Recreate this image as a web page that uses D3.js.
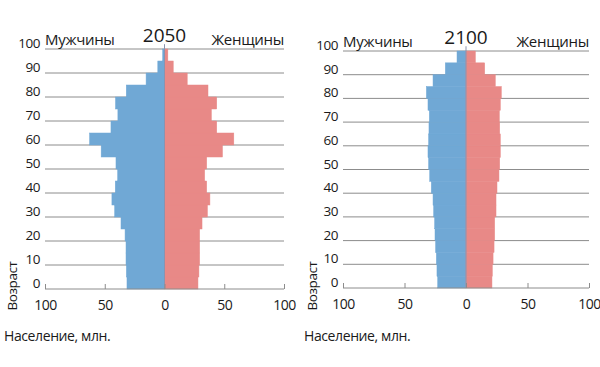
<!DOCTYPE html>
<html>
<head>
<meta charset="utf-8">
<script src="https://cdn.jsdelivr.net/npm/d3@7"></script>
<style>
body { margin: 0; background: #fff; }
svg text { font-family: "Open Sans", "Noto Sans", sans-serif; fill: #1a1a1a; }
</style>
</head>
<body>
<svg id="chart" width="600" height="367"></svg>
<script>
// age groups, 5 years each, bottom to top
var ageStarts = [0, 5, 10, 15, 20, 25, 30, 35, 40, 45, 50, 55, 60, 65, 70, 75, 80, 85, 90, 95];
var ageTicks = [0, 10, 20, 30, 40, 50, 60, 70, 80, 90, 100];
var popTicks = [-100, -50, 0, 50, 100];

var men2050 = [31.4, 31.9, 32.2, 32.2, 33, 36.4, 41.7, 44, 41.2, 39.2, 40.6, 53, 62.7, 44.8, 39, 41, 32, 15.4, 5.6, 1.5];
var women2050 = [28, 28.8, 29.4, 29.4, 29.4, 31.4, 35.9, 38, 35.3, 33.6, 35.3, 48.5, 58, 43.7, 39.2, 43.7, 36.4, 19, 7.3, 2.8];
var men2100 = [23, 23.6, 24.1, 24.7, 25.2, 25.5, 26.3, 26.8, 28.2, 29.5, 30.4, 30.9, 30.4, 30.1, 29.8, 30.9, 32.2, 26.8, 16.8, 7.3];
var women2100 = [21.1, 21.4, 22, 22.8, 23.3, 23.3, 24.4, 24.4, 25.2, 26.8, 27.4, 27.9, 27.9, 27.4, 27.1, 27.9, 28.7, 23.8, 15.2, 7.6];

var panels = [
	{year: "2050", men: men2050, women: women2050, x0: 45, x1: 284, yTop: 49, yBot: 289, ox: 0},
	{year: "2100", men: men2100, women: women2100, x0: 343, x1: 589, yTop: 51, yBot: 288, ox: 300}
];

var svg = d3.select("#chart");

panels.forEach(function(p) {
	var g = svg.append("g");

	var x = d3.scaleLinear().domain([-100, 100]).range([p.x0, p.x1]);
	var y = d3.scaleLinear().domain([0, 100]).range([p.yBot, p.yTop]);

	// gridlines
	g.selectAll(".grid").data(ageTicks.slice(1)).enter().append("line")
		.attr("x1", p.x0).attr("x2", p.x1)
		.attr("y1", function(d) { return y(d); })
		.attr("y2", function(d) { return y(d); })
		.attr("stroke", "#8c8c8c")
		.attr("stroke-width", 1);

	// age labels
	g.selectAll(".age").data(ageTicks).enter().append("text")
		.attr("x", p.x0 - 5)
		.attr("y", function(d) { return y(d) - 1; })
		.attr("text-anchor", "end")
		.attr("font-size", 13.5)
		.style("letter-spacing", "-0.5px")
		.text(function(d) { return d; });

	// men bars
	g.selectAll(".men").data(p.men).enter().append("rect")
		.attr("x", function(d) { return x(-d); })
		.attr("y", function(d, i) { return y(ageStarts[i] + 5); })
		.attr("width", function(d) { return x(0) - x(-d); })
		.attr("height", function(d, i) { return y(ageStarts[i]) - y(ageStarts[i] + 5); })
		.attr("fill", "#70a8d5")
		.attr("stroke", "#70a8d5")
		.attr("stroke-width", 0.5);

	// women bars
	g.selectAll(".women").data(p.women).enter().append("rect")
		.attr("x", x(0))
		.attr("y", function(d, i) { return y(ageStarts[i] + 5); })
		.attr("width", function(d) { return x(d) - x(0); })
		.attr("height", function(d, i) { return y(ageStarts[i]) - y(ageStarts[i] + 5); })
		.attr("fill", "#e88987")
		.attr("stroke", "#e88987")
		.attr("stroke-width", 0.5);

	// center line
	g.append("line")
		.attr("x1", x(0)).attr("x2", x(0))
		.attr("y1", y(102)).attr("y2", y(0))
		.attr("stroke", "#8a93b0")
		.attr("stroke-width", 1);

	// x axis
	var axis = d3.axisBottom(x)
		.tickValues(popTicks)
		.tickSize(-5)
		.tickPadding(11)
		.tickFormat(function(d) { return Math.abs(d); });
	var ax = g.append("g")
		.attr("transform", "translate(0," + y(0) + ")")
		.call(axis);
	ax.select(".domain").attr("stroke", "#8c8c8c").attr("d", "M" + p.x0 + ",0H" + p.x1);
	ax.selectAll(".tick line").attr("stroke", "#8c8c8c");
	ax.selectAll(".tick text")
		.attr("font-size", 14)
		.attr("font-family", "Open Sans, sans-serif")
		.attr("fill", "#1a1a1a")
		.style("letter-spacing", "-0.5px");

	// titles
	g.append("text")
		.attr("x", x(0)).attr("y", p.yTop - 7)
		.attr("text-anchor", "middle")
		.attr("font-size", 19)
		.text(p.year);
	g.append("text")
		.attr("x", p.x0).attr("y", p.yTop - 4)
		.attr("font-size", 15)
		.style("letter-spacing", "-0.3px")
		.text("Мужчины");
	g.append("text")
		.attr("x", p.x1).attr("y", p.yTop - 4)
		.attr("text-anchor", "end")
		.attr("font-size", 15)
		.style("letter-spacing", "-0.3px")
		.text("Женщины");

	// axis titles
	g.append("text")
		.attr("transform", "translate(" + (p.ox + 17) + ",286) rotate(-90)")
		.attr("text-anchor", "middle")
		.attr("font-size", 13.5)
		.style("letter-spacing", "-0.4px")
		.text("Возраст");
	g.append("text")
		.attr("x", p.ox + 4).attr("y", 341)
		.attr("font-size", 14)
		.style("letter-spacing", "-0.4px")
		.text("Население, млн.");
});
</script>
</body>
</html>
